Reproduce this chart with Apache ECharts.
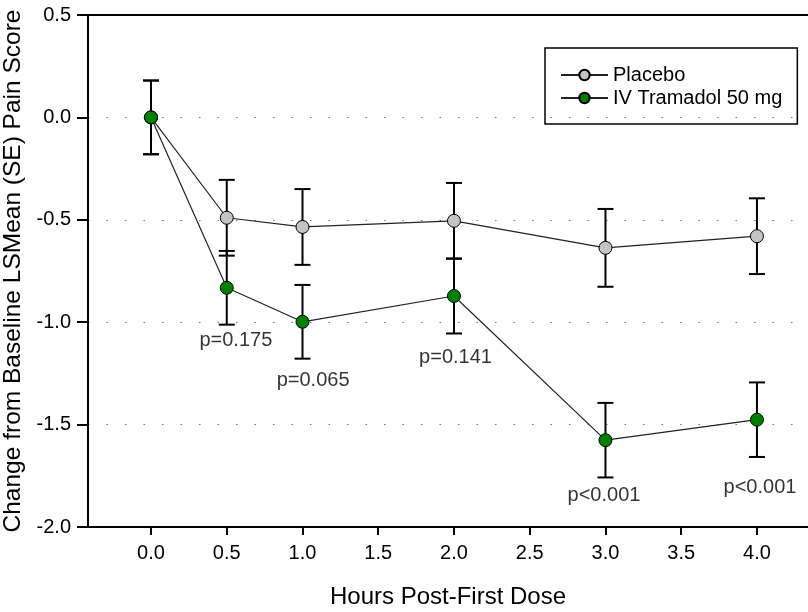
<!DOCTYPE html>
<html>
<head>
<meta charset="utf-8">
<script src="https://cdn.jsdelivr.net/npm/echarts@6/dist/echarts.min.js"></script>
<style>
    html, body { margin: 0; padding: 0; background: #fff; }
    #chart { width: 808px; height: 612px; }
</style>
</head>
<body>
<div id="chart"></div>
<script>
// hours post-first dose
const hours = [0, 0.5, 1, 2, 3, 4];
const xTicks = [0, 0.5, 1, 1.5, 2, 2.5, 3, 3.5, 4];

// LSMean change from baseline and SE
const placeboMean = [0, -0.49, -0.535, -0.505, -0.637, -0.58];
const placeboSE = [0.18, 0.185, 0.185, 0.185, 0.19, 0.185];
const tramadolMean = [0, -0.832, -0.998, -0.872, -1.576, -1.476];
const tramadolSE = [0.18, 0.18, 0.18, 0.183, 0.182, 0.182];

// p-value annotations (placed in data space)
const pText = ['p=0.175', 'p=0.065', 'p=0.141', 'p<0.001', 'p<0.001'];
const pX = [0.56, 1.07, 2.01, 2.99, 4.02];
const pY = [-1.09, -1.285, -1.17, -1.845, -1.805];

const FONT = 'Liberation Sans, Arial, sans-serif';
const INK = '#000';

const chart = echarts.init(document.getElementById('chart'));

function errorBars(means, ses) {
    return hours.map((h, i) => [h, means[i] - ses[i], means[i] + ses[i]]);
}

function renderErrorBar(params, api) {
    const lo = api.coord([api.value(0), api.value(1)]);
    const hi = api.coord([api.value(0), api.value(2)]);
    const half = 8;
    const style = { stroke: '#000', lineWidth: 2 };
    return {
        type: 'group',
        children: [
            { type: 'line', shape: { x1: lo[0], y1: lo[1], x2: hi[0], y2: hi[1] }, style },
            { type: 'line', shape: { x1: lo[0] - half, y1: lo[1], x2: lo[0] + half, y2: lo[1] }, style },
            { type: 'line', shape: { x1: hi[0] - half, y1: hi[1], x2: hi[0] + half, y2: hi[1] }, style }
        ]
    };
}

const option = {
    animation: false,
    textStyle: { fontFamily: FONT },
    grid: { left: 88, right: 0, top: 15, bottom: 85, outerBoundsMode: 'none', containLabel: false },
    legend: {
        orient: 'vertical',
        left: 545,
        top: 48,
        padding: [17, 15, 16, 15],
        itemGap: 3,
        itemWidth: 47,
        itemHeight: 13,
        borderColor: '#000',
        borderWidth: 1.5,
        textStyle: { fontSize: 20, color: INK, fontFamily: FONT },
        data: ['Placebo', 'IV Tramadol 50 mg']
    },
    xAxis: [
        {
            type: 'value',
            min: -0.416,
            max: 4.337,
            name: 'Hours Post-First Dose',
            nameLocation: 'middle',
            nameGap: 58,
            nameTextStyle: { fontSize: 24, color: INK, fontFamily: FONT },
            axisLine: { onZero: false, lineStyle: { color: '#000', width: 2 } },
            axisTick: { show: true, length: 8, lineStyle: { color: '#000', width: 2 }, customValues: xTicks },
            axisLabel: {
                fontSize: 20, color: INK, margin: 16,
                customValues: xTicks,
                formatter: v => v.toFixed(1)
            },
            splitLine: { show: false }
        },
        {
            type: 'value',
            position: 'top',
            min: -0.416,
            max: 4.337,
            axisLine: { show: true, onZero: false, lineStyle: { color: '#000', width: 2 } },
            axisTick: { show: false },
            axisLabel: { show: false },
            splitLine: { show: false }
        }
    ],
    yAxis: {
        type: 'value',
        min: -2,
        max: 0.5,
        interval: 0.5,
        name: 'Change from Baseline LSMean (SE) Pain Score',
        nameLocation: 'middle',
        nameGap: 54,
        nameTextStyle: { fontSize: 24.5, color: INK, fontFamily: FONT },
        axisLine: { show: true, onZero: false, lineStyle: { color: '#000', width: 2 } },
        axisTick: { show: true, length: 11, lineStyle: { color: '#000', width: 2 } },
        axisLabel: {
            fontSize: 20, color: INK, margin: 17,
            formatter: v => v.toFixed(1)
        },
        splitLine: {
            show: true,
            lineStyle: { color: '#777', width: 1, type: [1.5, 17] }
        }
    },
    series: [
        {
            type: 'custom',
            name: 'placeboErr',
            renderItem: renderErrorBar,
            data: errorBars(placeboMean, placeboSE),
            z: 2
        },
        {
            type: 'custom',
            name: 'tramadolErr',
            renderItem: renderErrorBar,
            data: errorBars(tramadolMean, tramadolSE),
            z: 2
        },
        {
            type: 'line',
            name: 'Placebo',
            data: hours.map((h, i) => [h, placeboMean[i]]),
            symbol: 'circle',
            symbolSize: 13,
            lineStyle: { color: '#222', width: 1.2 },
            itemStyle: { color: '#c4c4c4', borderColor: '#000', borderWidth: 1 },
            z: 3
        },
        {
            type: 'line',
            name: 'IV Tramadol 50 mg',
            data: hours.map((h, i) => [h, tramadolMean[i]]),
            symbol: 'circle',
            symbolSize: 13,
            lineStyle: { color: '#222', width: 1.2 },
            itemStyle: { color: '#008000', borderColor: '#000', borderWidth: 1 },
            z: 4
        },
        {
            type: 'scatter',
            name: 'pvalues',
            symbolSize: 0,
            silent: true,
            data: pText.map((t, i) => ({ name: t, value: [pX[i], pY[i]] })),
            label: {
                show: true,
                position: 'inside',
                formatter: p => p.name,
                fontSize: 20,
                color: INK,
                fontFamily: FONT
            },
            z: 5
        }
    ]
};

chart.setOption(option);
</script>
</body>
</html>
